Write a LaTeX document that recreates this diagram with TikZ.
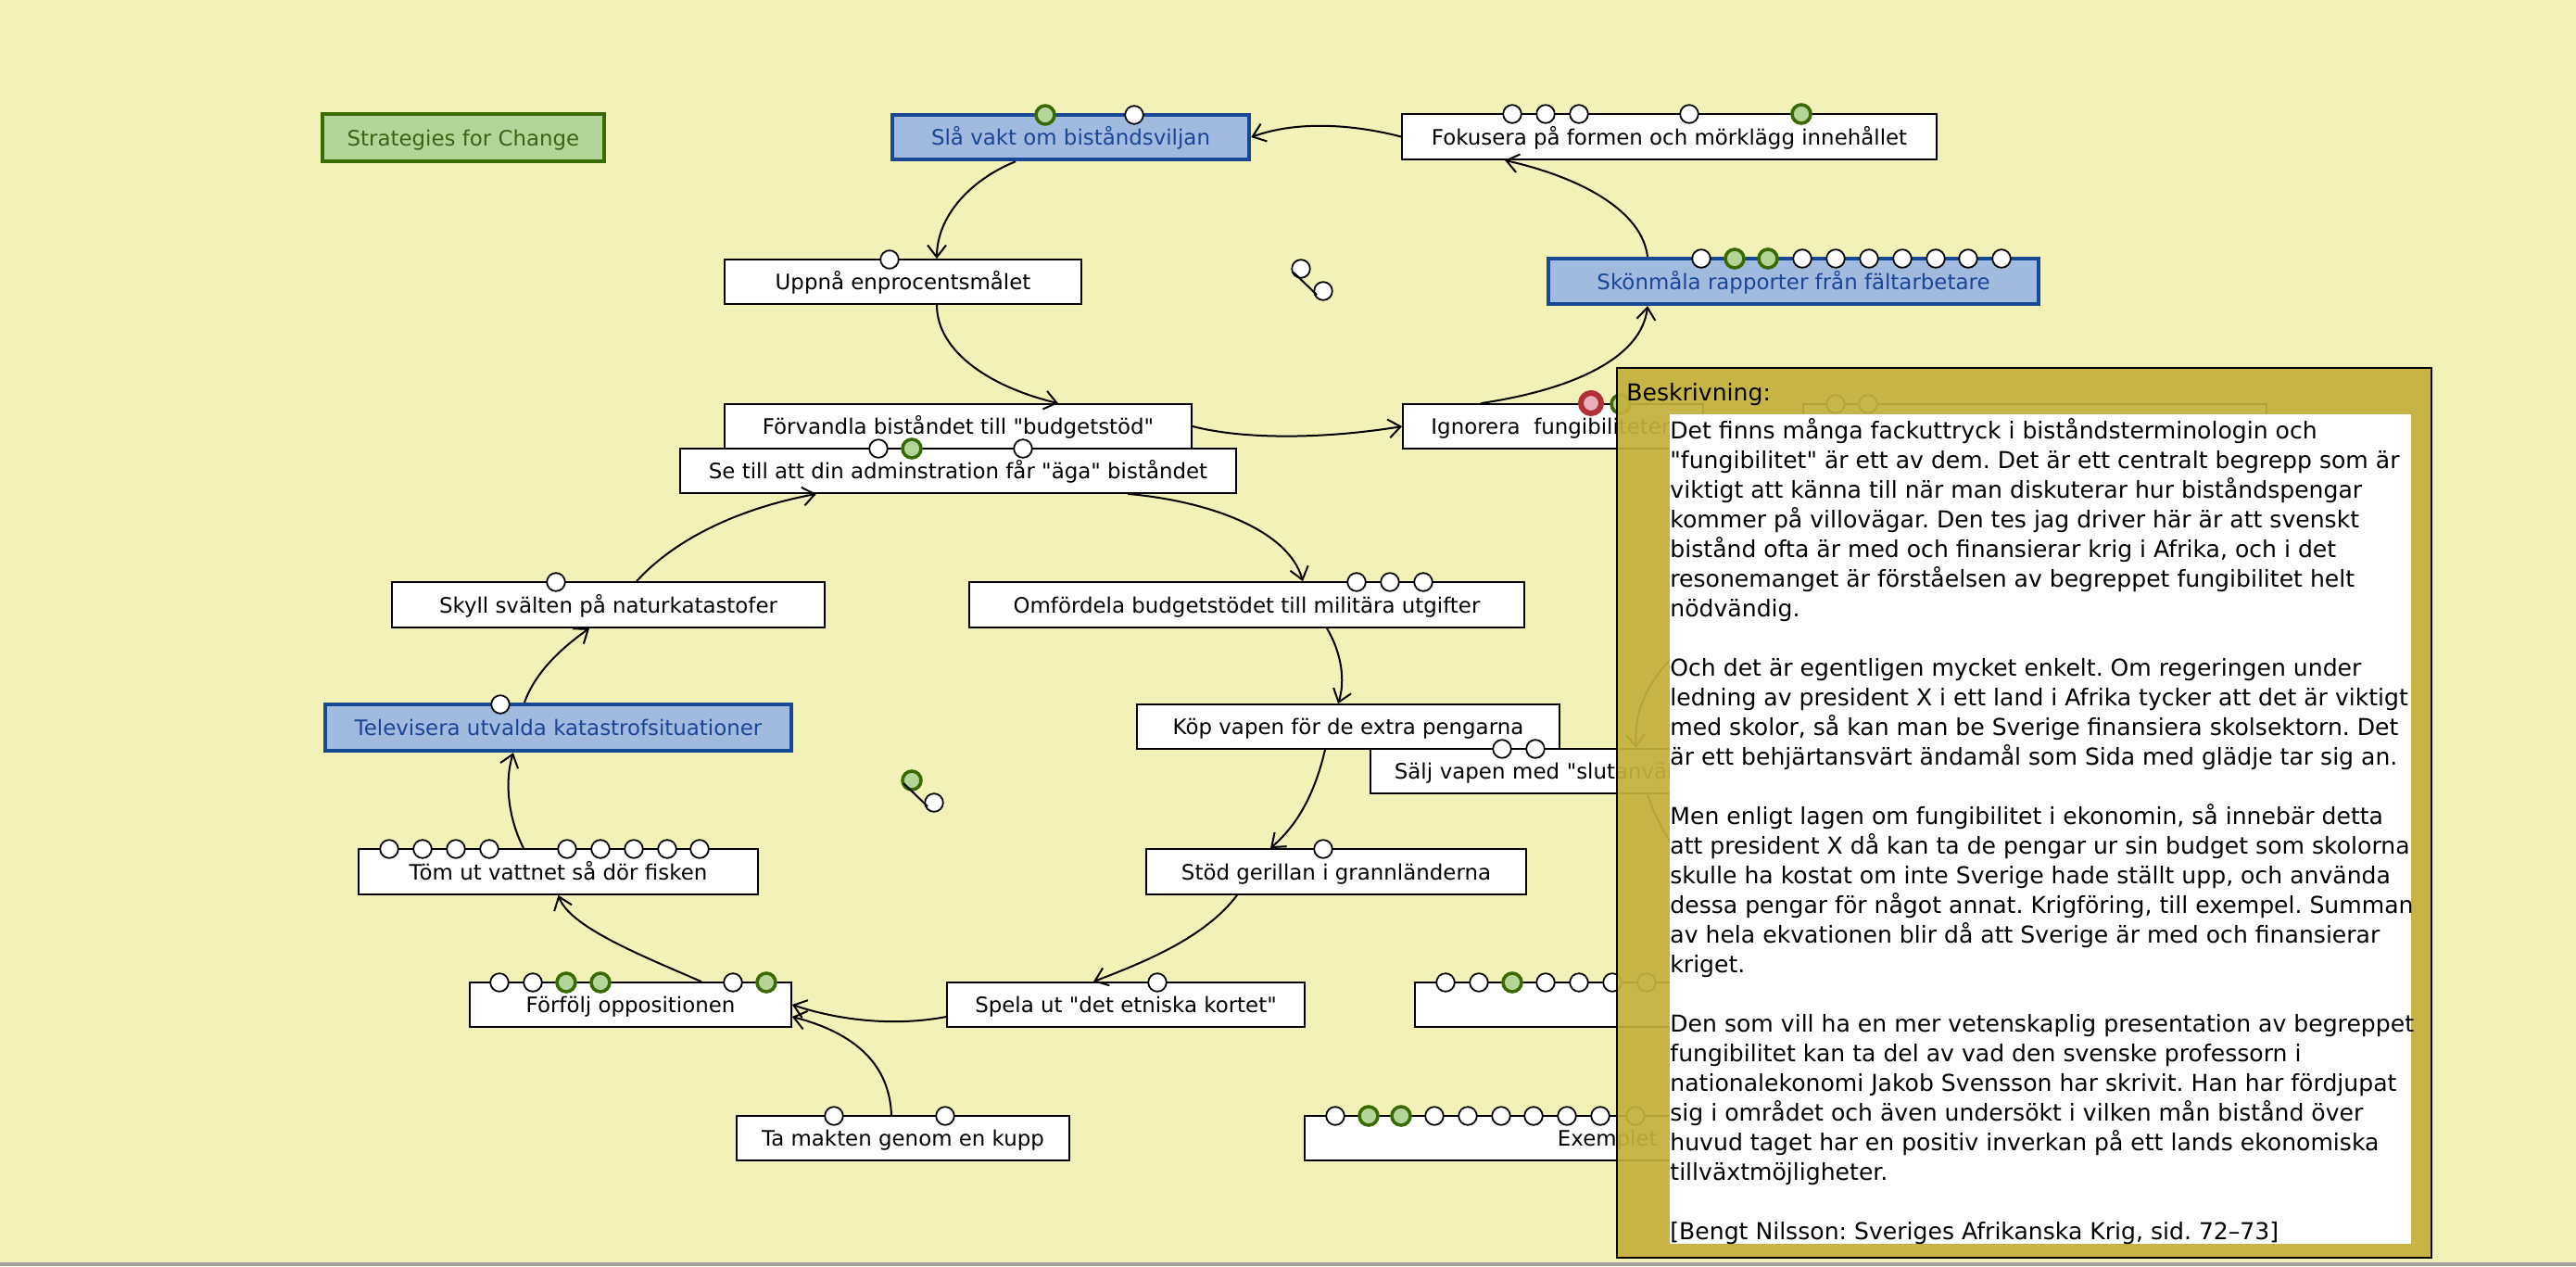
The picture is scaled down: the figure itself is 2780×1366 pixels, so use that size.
\documentclass[tikz,border=0pt]{standalone}
\usepackage{fontspec}
\setmainfont{DejaVu Sans}[Ligatures=TeXOff]
\usetikzlibrary{arrows.meta,calc}
\definecolor{bgc}{HTML}{F2F1B7}
\definecolor{panelc}{HTML}{C4B03C}
\definecolor{gfill}{HTML}{B5D498}
\definecolor{gborder}{HTML}{3A6A00}
\definecolor{gtext}{HTML}{3C6414}
\definecolor{bfill}{HTML}{A1BADF}
\definecolor{bborder}{HTML}{164894}
\definecolor{btext}{HTML}{194696}
\definecolor{rborder}{HTML}{B03038}
\definecolor{rfill}{HTML}{E8B0B8}
\definecolor{barc}{HTML}{A0A0A0}
\newcommand\bxfont{\fontsize{11.45}{13}\selectfont}
\newcommand\dsfont{\fontsize{12.55}{16}\selectfont}
\tikzset{
  box/.style={draw=black, fill=white, line width=0.9pt, minimum height=24pt, inner sep=0pt,
    text height=8.5pt, text depth=0pt, font=\bxfont},
  bluebox/.style={box, draw=bborder, fill=bfill, text=btext, line width=2.2pt},
  greenbox/.style={box, draw=gborder, fill=gfill, text=gtext, line width=2pt},
  port/.style={draw=black, fill=white, line width=0.9pt},
  gport/.style={draw=gborder, fill=gfill, line width=1.8pt},
  rport/.style={draw=rborder, fill=rfill, line width=3pt},
  conn/.style={draw=black, line width=1pt, -{Straight Barb[length=6.5pt,width=10pt,line width=1pt]}},
  plainconn/.style={draw=black, line width=1pt},
}
\begin{document}
\frenchspacing
\begin{tikzpicture}[x=0.5pt,y=-0.5pt]
\useasboundingbox (0,0) rectangle (2780,1366);
\fill[bgc] (0,0) rectangle (2780,1366);

% ---------- nodes ----------
\node[greenbox, minimum width=152pt, minimum height=25.5pt] (strat) at (500,148.5) {Strategies for Change};
\node[bluebox, minimum width=192.5pt] (slavakt) at (1155.5,148) {Slå vakt om biståndsviljan};
\node[box, minimum width=288.5pt, minimum height=24.5pt] (fokus) at (1801.5,147.5) {Fokusera på formen och mörklägg innehållet};
\node[bluebox, minimum width=264.5pt, minimum height=24.5pt] (skon) at (1935.5,303.5) {Skönmåla rapporter från fältarbetare};
\node[box, minimum width=192.5pt] (uppna) at (974.5,304) {Uppnå enprocentsmålet};
\node[box, minimum width=252pt] (forv) at (1034,460) {Förvandla biståndet till "budgetstöd"};
\node[box, minimum width=300pt] (setill) at (1034,508) {Se till att din adminstration får "äga" biståndet};
\node[box, minimum width=162pt] (ign) at (1676,460) {Ignorera\ \ fungibiliteten};
\node[box, anchor=west, minimum width=250pt] (hbox) at (1945,460) {};
\node[box, minimum width=233.5pt, minimum height=24.5pt] (skyll) at (656.5,652.5) {Skyll svälten på naturkatastofer};
\node[box, minimum width=299.5pt, minimum height=24.5pt] (omf) at (1345.5,652.5) {Omfördela budgetstödet till militära utgifter};
\node[bluebox, minimum width=251.5pt, minimum height=25pt] (telev) at (602.5,785) {Televisera utvalda katastrofsituationer};
\node[box, minimum width=228pt] (kop) at (1455,784) {Köp vapen för de extra pengarna};
\node[box, anchor=west, inner xsep=13pt, text width=310pt, align=left] (salj) at (1478,832) {Sälj vapen med "slutanvär};
\node[box, minimum width=205pt, minimum height=24.5pt] (stod) at (1442,940.5) {Stöd gerillan i grannländerna};
\node[box, minimum width=215.5pt, minimum height=24.5pt] (tom) at (602.5,940.5) {Töm ut vattnet så dör fisken};
\node[box, minimum width=193pt] (spela) at (1215,1084) {Spela ut "det etniska kortet"};
\node[box, minimum width=173.5pt] (forf) at (680.5,1084) {Förfölj oppositionen};
\node[box, anchor=west, minimum width=400pt] (boxa) at (1526,1084) {};
\node[box, minimum width=179.5pt] (tamakt) at (974.5,1228) {Ta makten genom en kupp};
\node[box, anchor=west, inner xsep=136.5pt, text width=198.5pt, align=left] (boxb) at (1407,1228) {Exemplet};

% ---------- connectors ----------
\draw[conn] (fokus.west) .. controls (1460,134) and (1400,130) .. (slavakt.east);
\draw[conn] ([xshift=-29.75pt]slavakt.south) .. controls (1045,195) and (1011,235) .. ([xshift=18.25pt]uppna.north);
\draw[conn] ([xshift=18.25pt]uppna.south) .. controls (1011,380) and (1070,418) .. ([xshift=54pt]forv.north);
\draw[conn] (forv.east) .. controls (1350,476) and (1440,472) .. (ign.west);
\draw[conn] ([xshift=-39pt]ign.north) .. controls (1700,420) and (1772,385) .. ([xshift=-78.75pt]skon.south);
\draw[conn] ([xshift=-78.75pt]skon.north) .. controls (1772,228) and (1708,192) .. ([xshift=-88.75pt]fokus.south);
\draw[conn] ([xshift=91.5pt]setill.south) .. controls (1300,540) and (1390,570) .. ([xshift=30.25pt]omf.north);
\draw[conn] ([xshift=43.25pt]omf.south) .. controls (1448,705) and (1452,735) .. ([xshift=-5.5pt]kop.north);
\draw[conn] ([xshift=-12.5pt]kop.south) .. controls (1418,860) and (1398,892) .. ([xshift=-35.5pt]stod.north);
\draw[conn] ([xshift=-53.5pt]stod.south) .. controls (1300,1012) and (1235,1038) .. ([xshift=-17.5pt]spela.north);
\draw[conn] ([yshift=-6.5pt]spela.west) .. controls (975,1106) and (915,1104) .. (forf.east);
\draw[conn] ([xshift=-6.25pt]tamakt.north) .. controls (960,1150) and (925,1115) .. ([yshift=-6.5pt]forf.east);
\draw[conn] ([xshift=38.25pt]forf.north) .. controls (690,1030) and (615,1000) .. (tom.south);
\draw[conn] ([xshift=-18.75pt]tom.north) .. controls (547,880) and (545,840) .. ([xshift=-24.25pt]telev.south);
\draw[conn] ([xshift=-18.25pt]telev.north) .. controls (578,725) and (605,700) .. ([xshift=-10.25pt]skyll.south);
\draw[conn] ([xshift=15.25pt]skyll.north) .. controls (730,580) and (800,548) .. ([xshift=-76.5pt]setill.south);
\coordinate (hq1) at (1840,680);
\coordinate (hq2) at (1845,960);
\draw[conn] (hq1) .. controls (1775,725) and (1763,770) .. ([xshift=-24.5pt]salj.north);
\draw[plainconn] ([xshift=-18.5pt]salj.south) .. controls (1790,895) and (1815,930) .. (hq2);

% ---------- ports ----------
\draw[gport] (1128,124) circle[radius=5pt];
\draw[port] (1224,124) circle[radius=4.9pt];
\foreach \x in {1632,1668,1704,1823} \draw[port] (\x,123) circle[radius=4.9pt];
\draw[gport] (1944,123) circle[radius=5pt];
\foreach \x in {1836,1945,1981,2017,2053,2089,2124,2160} \draw[port] (\x,279) circle[radius=4.9pt];
\foreach \x in {1872,1908} \draw[gport] (\x,279) circle[radius=5pt];
\draw[port] (960,280) circle[radius=4.9pt];
\foreach \x in {948,1104} \draw[port] (\x,484) circle[radius=4.9pt];
\draw[gport] (984,484) circle[radius=5pt];
\draw[rport] (1717,435) circle[radius=5.5pt];
\draw[gport] (1749,436) circle[radius=5pt];
\foreach \x in {1981,2016} \draw[port] (\x,436) circle[radius=4.9pt];
\draw[port] (600,628) circle[radius=4.9pt];
\foreach \x in {1464,1500,1536} \draw[port] (\x,628) circle[radius=4.9pt];
\draw[port] (540,760) circle[radius=4.9pt];
\foreach \x in {1621,1657} \draw[port] (\x,808) circle[radius=4.9pt];
\draw[port] (1428,916) circle[radius=4.9pt];
\foreach \x in {420,456,492,528,612,648,684,720,755} \draw[port] (\x,916) circle[radius=4.9pt];
\draw[port] (1249,1060) circle[radius=4.9pt];
\foreach \x in {539,575,791} \draw[port] (\x,1060) circle[radius=4.9pt];
\foreach \x in {611,648,827} \draw[gport] (\x,1060) circle[radius=5pt];
\foreach \x in {900,1020} \draw[port] (\x,1204) circle[radius=4.9pt];
\foreach \x in {1560,1596,1668,1704,1740,1777} \draw[port] (\x,1060) circle[radius=4.9pt];
\draw[gport] (1632,1060) circle[radius=5pt];
\foreach \x in {1441,1548,1584,1620,1655,1691,1727,1765} \draw[port] (\x,1204) circle[radius=4.9pt];
\foreach \x in {1477,1512} \draw[gport] (\x,1204) circle[radius=5pt];

% free pairs
\draw[port] (1404,290) circle[radius=4.9pt];
\draw[port] (1428,314) circle[radius=4.9pt];
\draw[line width=1pt] (1396,294) -- (1421,318);
\draw[gport] (984,842) circle[radius=5pt];
\draw[port] (1008,866) circle[radius=4.9pt];
\draw[line width=1pt] (975,845) -- (1001,870);

% ---------- description panel ----------
\fill[panelc, fill opacity=0.93] (1745,397) rectangle (2624,1357);
\draw[black, line width=1pt] (1745,397) rectangle (2624,1357);
\fill[white] (1802,447) rectangle (2602,1342);
\node[anchor=base west, inner sep=0pt, font=\dsfont] (beskr) at (1755,432) {Beskrivning:};
\foreach \i/\t in {
 0/{Det finns många fackuttryck i biståndsterminologin och},
 1/{"fungibilitet" är ett av dem. Det är ett centralt begrepp som är},
 2/{viktigt att känna till när man diskuterar hur biståndspengar},
 3/{kommer på villovägar. Den tes jag driver här är att svenskt},
 4/{bistånd ofta är med och finansierar krig i Afrika, och i det},
 5/{resonemanget är förståelsen av begreppet fungibilitet helt},
 6/{nödvändig.},
 8/{Och det är egentligen mycket enkelt. Om regeringen under},
 9/{ledning av president X i ett land i Afrika tycker att det är viktigt},
 10/{med skolor, så kan man be Sverige finansiera skolsektorn. Det},
 11/{är ett behjärtansvärt ändamål som Sida med glädje tar sig an.},
 13/{Men enligt lagen om fungibilitet i ekonomin, så innebär detta},
 14/{att president X då kan ta de pengar ur sin budget som skolorna},
 15/{skulle ha kostat om inte Sverige hade ställt upp, och använda},
 16/{dessa pengar för något annat. Krigföring, till exempel. Summan},
 17/{av hela ekvationen blir då att Sverige är med och finansierar},
 18/{kriget.},
 20/{Den som vill ha en mer vetenskaplig presentation av begreppet},
 21/{fungibilitet kan ta del av vad den svenske professorn i},
 22/{nationalekonomi Jakob Svensson har skrivit. Han har fördjupat},
 23/{sig i området och även undersökt i vilken mån bistånd över},
 24/{huvud taget har en positiv inverkan på ett lands ekonomiska},
 25/{tillväxtmöjligheter.},
 27/{[Bengt Nilsson: Sveriges Afrikanska Krig, sid. 72–73]}}
 \node[anchor=base west, inner sep=0pt, font=\dsfont] at (1802,{473+32*\i}) {\t};

% bottom bar
\fill[barc] (0,1362) rectangle (2780,1366);
\end{tikzpicture}
\end{document}
